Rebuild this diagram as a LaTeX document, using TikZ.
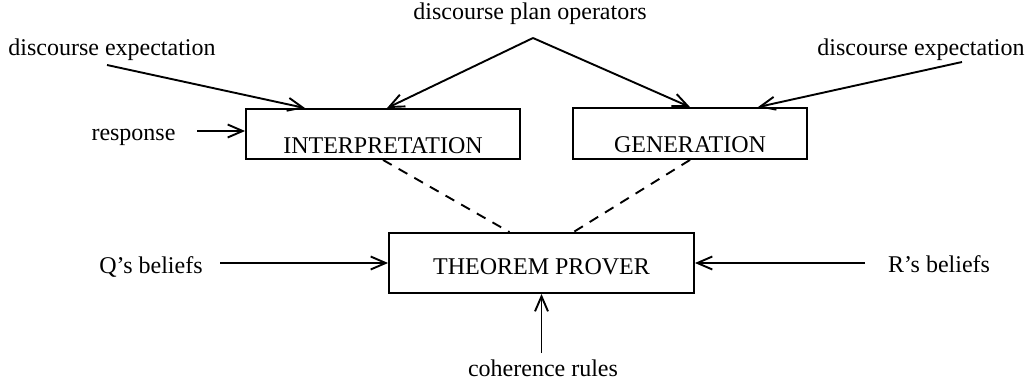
\documentclass[tikz,border=0pt]{standalone}
\usepackage{fontspec}
\setmainfont{Liberation Serif}
\usetikzlibrary{arrows.meta,calc}
\begin{document}
\begin{tikzpicture}[x=1pt,y=-1pt,
  every node/.style={font=\fontsize{24}{28}\selectfont, inner sep=0pt},
  boxnode/.style={draw, line width=1.9pt, inner sep=0pt},
  conn/.style={line width=1.9pt},
  arr/.style={conn, -{Straight Barb[length=15pt,width=13pt]}},
  dashconn/.style={line width=1.9pt, dash pattern=on 10pt off 8pt}
]
\useasboundingbox (0,0) rectangle (1034,383);
% boxes
\node[boxnode, minimum width=274pt, minimum height=50pt, text height=38pt, text depth=0pt] (interp) at (383,134) {INTERPRETATION};
\node[boxnode, minimum width=234pt, minimum height=51pt, text height=38pt, text depth=0pt] (gen) at (690,133.5) {GENERATION};
\node[boxnode, minimum width=305pt, minimum height=60pt, text height=22pt, text depth=0pt] (tp) at (541.5,263) {THEOREM PROVER};
% labels
\node[anchor=base] (ops) at (530,19) {discourse plan operators};
\node[anchor=base] (expl) at (112,55) {discourse expectation};
\node[anchor=base] (expr) at (921,55) {discourse expectation};
\node[anchor=base] (resp) at (133.5,140) {response};
\node[anchor=base] (qb) at (151,273) {Q’s beliefs};
\node[anchor=base] (rb) at (939,272) {R’s beliefs};
\node[anchor=base] (coh) at (543,376) {coherence rules};
% connector start points
\coordinate (peak) at (533,38);
\coordinate (explS) at (107,65);
\coordinate (exprS) at (962,62);
\coordinate (respS) at (197,131);
\coordinate (qbS) at (220,263);
\coordinate (rbS) at (865,263);
\coordinate (cohS) at (541.5,353);
% connectors
\draw[arr] (explS) -- ($(interp.north)+(-78,0)$);
\draw[arr] (peak) -- ($(interp.north)+(4,0)$);
\draw[arr] (peak) -- (gen.north);
\draw[arr] (exprS) -- ($(gen.north)+(68,0)$);
\draw[arr] (respS) -- ($(interp.west)+(0,-3)$);
\draw[arr] (qbS) -- (tp.west);
\draw[arr] (rbS) -- (tp.east);
\draw[arr] (cohS) -- (tp.south);
\draw[dashconn] (interp.south) -- ($(tp.north)+(-32,0)$);
\draw[dashconn] (gen.south) -- ($(tp.north)+(32,0)$);
\end{tikzpicture}
\end{document}
